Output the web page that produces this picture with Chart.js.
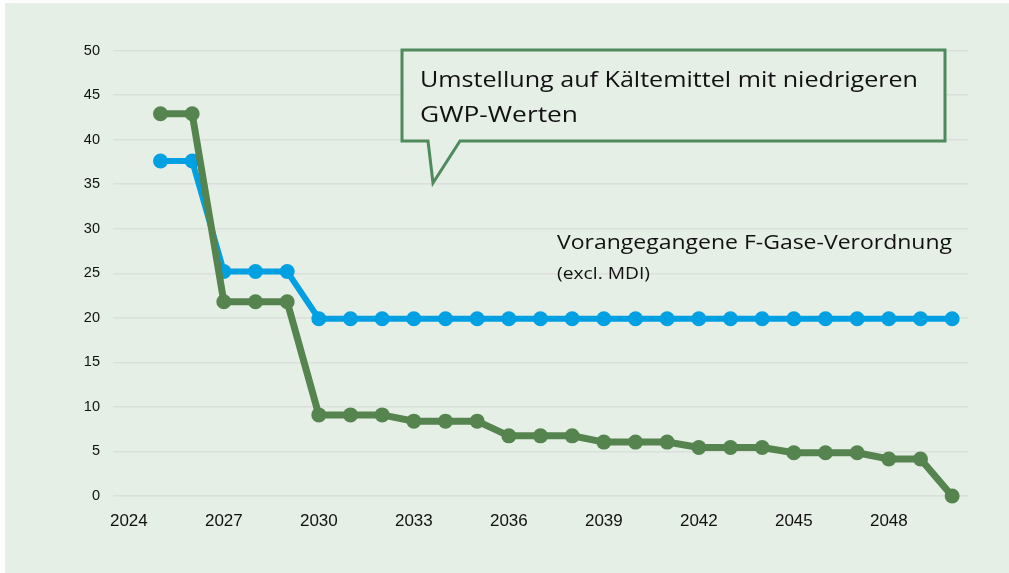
<!DOCTYPE html>
<html><head><meta charset="utf-8">
<script src="https://cdn.jsdelivr.net/npm/chart.js@4"></script>
<style>html,body{margin:0;padding:0;background:#fff;}canvas{display:block;}</style>
</head><body>
<canvas id="c" width="1009" height="573"></canvas>
<script>
const years = [2024,2025,2026,2027,2028,2029,2030,2031,2032,2033,2034,2035,2036,2037,2038,2039,2040,2041,2042,2043,2044,2045,2046,2047,2048,2049,2050];
const previousRegulation = [null,37.6,37.6,25.2,25.2,25.2,19.9,19.9,19.9,19.9,19.9,19.9,19.9,19.9,19.9,19.9,19.9,19.9,19.9,19.9,19.9,19.9,19.9,19.9,19.9,19.9,19.9];
const newRegulation = [null,42.9,42.9,21.8,21.8,21.8,9.1,9.1,9.1,8.4,8.4,8.4,6.75,6.75,6.75,6.05,6.05,6.05,5.45,5.45,5.45,4.85,4.85,4.85,4.15,4.15,0];
const yTicks = [0,5,10,15,20,25,30,35,40,45,50];

const GREEN = '#55844F';
const BLUE = '#00A0E3';
const BG = '#E5EFE6';

function fitText(ctx, text, x, y, size, targetWidth) {
  ctx.font = size + 'px "Open Sans"';
  const w = ctx.measureText(text).width;
  ctx.save();
  ctx.translate(x, y);
  ctx.scale(targetWidth / w, 1);
  ctx.fillText(text, 0, 0);
  ctx.restore();
}

const decor = {
  id: 'decor',
  beforeDraw(chart) {
    const ctx = chart.ctx;
    ctx.save();
    ctx.fillStyle = '#ffffff';
    ctx.fillRect(0,0,chart.width,chart.height);
    ctx.fillStyle = BG;
    ctx.fillRect(5,3,chart.width-5,chart.height-3);
    ctx.restore();
  },
  afterDatasetsDraw(chart) {
    const ctx = chart.ctx;
    ctx.save();
    ctx.beginPath();
    ctx.moveTo(402,50);
    ctx.lineTo(945,50);
    ctx.lineTo(945,141);
    ctx.lineTo(460,141);
    ctx.lineTo(433,183);
    ctx.lineTo(428,141);
    ctx.lineTo(402,141);
    ctx.closePath();
    ctx.fillStyle = BG;
    ctx.fill();
    ctx.lineWidth = 3;
    ctx.strokeStyle = '#4E8A5C';
    ctx.lineJoin = 'miter';
    ctx.stroke();
    ctx.fillStyle = '#111';
    ctx.textBaseline = 'alphabetic';
    ctx.textAlign = 'left';
    fitText(ctx, 'Umstellung auf Kältemittel mit niedrigeren', 420, 87, 22, 498);
    fitText(ctx, 'GWP-Werten', 420, 122, 22, 158);
    fitText(ctx, 'Vorangegangene F-Gase-Verordnung', 557, 249, 20, 395);
    fitText(ctx, '(excl. MDI)', 557, 279, 15.5, 93);
    ctx.restore();
  }
};

new Chart(document.getElementById('c'), {
  type: 'line',
  data: {
    labels: years.map(String),
    datasets: [
      { label: 'Neue F-Gase-Verordnung', data: newRegulation, borderColor: GREEN, backgroundColor: GREEN,
        borderWidth: 7, pointRadius: 7.5, pointBorderWidth: 0, tension: 0, spanGaps: false, clip: false },
      { label: 'Vorangegangene F-Gase-Verordnung', data: previousRegulation, borderColor: BLUE, backgroundColor: BLUE,
        borderWidth: 6, pointRadius: 7.5, pointBorderWidth: 0, tension: 0, spanGaps: false, clip: false }
    ]
  },
  options: {
    responsive: false,
    animation: false,
    layout: { padding: { left: 0, right: 41, top: 50.5, bottom: 0 } },
    plugins: { legend: { display: false }, tooltip: { enabled: false } },
    scales: {
      x: {
        type: 'category',
        offset: true,
        grid: { display: false, drawTicks: false },
        border: { display: false },
        ticks: {
          autoSkip: false, maxRotation: 0, padding: 15,
          color: '#111', font: { family: '"Liberation Sans", Arial', size: 17 },
          callback: function(v, i) { return i % 3 === 0 ? years[i] : ''; }
        },
        afterFit(scale) { scale.height = 77; }
      },
      y: {
        min: 0, max: 50,
        afterBuildTicks(scale) { scale.ticks = yTicks.map(v => ({ value: v })); },
        grid: { color: '#DCE0DC', lineWidth: 1.5, drawTicks: false },
        border: { display: false },
        ticks: { padding: 13, color: '#111', font: { family: '"Liberation Sans", Arial', size: 14.5 } },
        afterFit(scale) { scale.width = 113; }
      }
    }
  },
  plugins: [decor]
});
</script>
</body></html>
